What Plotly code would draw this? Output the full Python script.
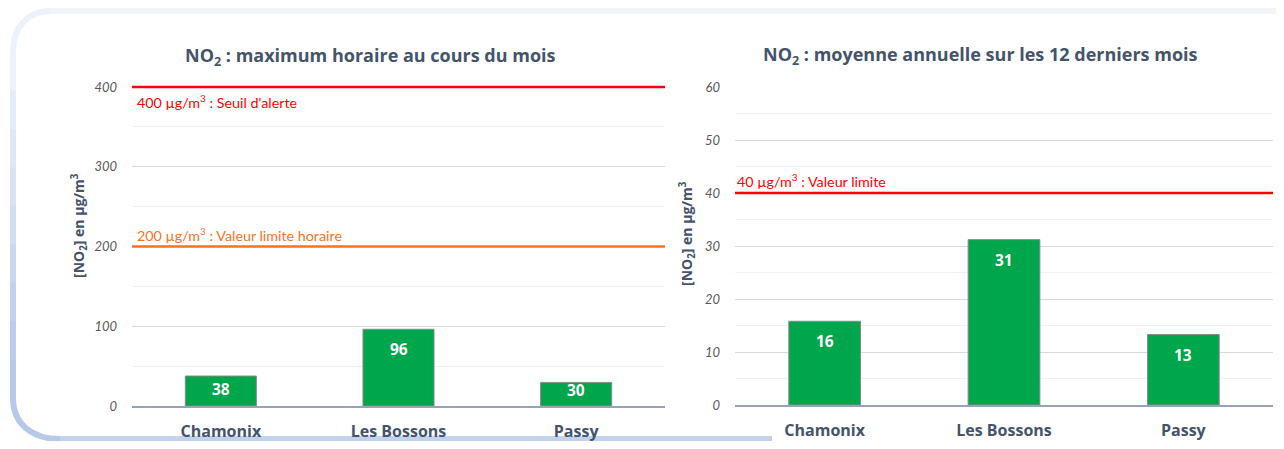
import plotly.graph_objects as go

# ---------------- data ----------------
stations = ["Chamonix", "Les Bossons", "Passy"]
max_horaire = [37.6, 96.2, 29.6]          # µg/m3, left chart
moy_annuelle = [15.8, 31.2, 13.3]         # µg/m3, right chart
left_ticks = [0, 100, 200, 300, 400]
right_ticks = [0, 10, 20, 30, 40, 50, 60]
left_thresholds = [400, 200]
left_threshold_labels = ["400 µg/m<sup>3</sup> : Seuil d'alerte",
                         "200 µg/m<sup>3</sup> : Valeur limite horaire"]
right_thresholds = [40]
right_threshold_labels = ["40 µg/m<sup>3</sup> : Valeur limite"]
title_left = "NO<sub>2</sub> : maximum horaire au cours du mois"
title_right = "NO<sub>2</sub> : moyenne annuelle sur les 12 derniers mois"
ytitle = "[NO<sub>2</sub>] en µg/m<sup>3</sup>"

# ---------------- layout constants ----------------
# The page body has an 8px margin: the figure is sized to fit the viewport
OFF = 8
W, H = 1284 - 2 * OFF, 449 - 2 * OFF
def px(x):
    return (x - OFF) / W
def py(y):
    return 1 - (y - OFF) / H

L_X = [px(132), px(665)]
L_Y = [py(406), py(87)]
R_X = [px(735), px(1273)]
R_Y = [py(405), py(87)]
L_MAX, R_MAX = 400, 60

GREEN = "#00a64b"
DARK = "#44546a"
TICK = "#595959"
RED = "#ff0000"
ORANGE = "#f7731f"
TITLE_FONT = "Open Sans"
NARROW_FONT = "Lato"

fig = go.Figure()

fig.add_trace(go.Bar(x=stations, y=max_horaire, xaxis="x", yaxis="y",
                     marker=dict(color=GREEN, line=dict(color="#8a8a8a", width=1)),
                     width=0.4, hoverinfo="x+y", showlegend=False))
fig.add_trace(go.Bar(x=stations, y=moy_annuelle, xaxis="x2", yaxis="y2",
                     marker=dict(color=GREEN, line=dict(color="#8a8a8a", width=1)),
                     width=0.4, hoverinfo="x+y", showlegend=False))

common_y = dict(
    showgrid=True, gridcolor="#d9d9d9", gridwidth=1,
    zeroline=False, showline=False, ticks="",
    tickfont=dict(family=NARROW_FONT, size=13, color=TICK, style="italic"),
    ticklabelstandoff=14,
    automargin=False,
    fixedrange=True,
)
common_x = dict(
    showline=True, linecolor="#97a3b6", linewidth=1.5,
    ticks="", showgrid=False,
    tickfont=dict(family=TITLE_FONT, size=16, color=DARK, weight="bold"),
    ticklabelstandoff=10,
    automargin=False,
    fixedrange=True,
)

fig.update_layout(
    width=W, height=H,
    margin=dict(l=0, r=0, t=0, b=0, pad=0),
    paper_bgcolor="white", plot_bgcolor="rgba(0,0,0,0)",
    bargap=0.6,
    xaxis=dict(domain=L_X, anchor="y", **common_x),
    yaxis=dict(domain=L_Y, anchor="x", range=[0, L_MAX], tickvals=left_ticks,
               minor=dict(dtick=50, showgrid=True, gridcolor="#f0f0f0", ticks=""),
               **common_y),
    xaxis2=dict(domain=R_X, anchor="y2", **common_x),
    yaxis2=dict(domain=R_Y, anchor="x2", range=[0, R_MAX], tickvals=right_ticks,
                minor=dict(dtick=5, showgrid=True, gridcolor="#f0f0f0", ticks=""),
                **common_y),
)

shapes = []
annotations = []

# ---------- card decoration (rounded border with gradient) ----------
def P(x, y):
    return f"{px(x):.5f},{py(y):.5f}"

BW = 6
shapes.append(dict(type="path", xref="paper", yref="paper", layer="below",
                   path=f"M{P(50,11)} L{P(1290,11)}",
                   line=dict(color="#f1f4fa", width=BW)))
shapes.append(dict(type="path", xref="paper", yref="paper", layer="below",
                   path=f"M{P(13,52)} C{P(13,27)} {P(28,11)} {P(50,11)}",
                   line=dict(color="#edf1f9", width=BW)))
left_cols = ["#edf1f9", "#e6ecf7", "#dfe7f5", "#d8e2f3", "#d1ddf1",
             "#c9d7ef", "#c2d2ed", "#bccdeb", "#b7c9ea"]
n = len(left_cols)
y0, y1 = 52, 398
for i, c in enumerate(left_cols):
    ya = y0 + (y1 - y0) * i / n
    yb = y0 + (y1 - y0) * (i + 1) / n + 1
    shapes.append(dict(type="path", xref="paper", yref="paper", layer="below",
                       path=f"M{P(13,ya)} L{P(13,yb)}",
                       line=dict(color=c, width=BW)))
shapes.append(dict(type="path", xref="paper", yref="paper", layer="below",
                   path=f"M{P(13,398)} C{P(13,424)} {P(32,439)} {P(60,439)}",
                   line=dict(color="#b6c9e9", width=BW)))
shapes.append(dict(type="path", xref="paper", yref="paper", layer="below",
                   path=f"M{P(60,439)} L{P(772,439)}",
                   line=dict(color="#c3d3ee", width=BW)))

# ---------- threshold lines (paper y derived from the axis scale, not clipped) ----------
def val_to_paper(v, dom, vmax):
    return dom[0] + (dom[1] - dom[0]) * v / vmax

for val in left_thresholds:
    col = RED if val == 400 else ORANGE
    yp = val_to_paper(val, L_Y, L_MAX)
    shapes.append(dict(type="line", xref="paper", yref="paper",
                       x0=L_X[0], x1=L_X[1], y0=yp, y1=yp,
                       line=dict(color=col, width=2.5)))
for val in right_thresholds:
    yp = val_to_paper(val, R_Y, R_MAX)
    shapes.append(dict(type="line", xref="paper", yref="paper",
                       x0=R_X[0], x1=R_X[1], y0=yp, y1=yp,
                       line=dict(color=RED, width=2.5)))

annotations.append(dict(xref="x domain", yref="y", x=0, y=left_thresholds[0],
                        text=left_threshold_labels[0], showarrow=False,
                        xanchor="left", yanchor="top", xshift=3, yshift=-3,
                        font=dict(family=NARROW_FONT, size=14.3, color=RED)))
annotations.append(dict(xref="x domain", yref="y", x=0, y=left_thresholds[1],
                        text=left_threshold_labels[1], showarrow=False,
                        xanchor="left", yanchor="bottom", xshift=3, yshift=1,
                        font=dict(family=NARROW_FONT, size=14.3, color=ORANGE)))
annotations.append(dict(xref="x2 domain", yref="y2", x=0, y=right_thresholds[0],
                        text=right_threshold_labels[0], showarrow=False,
                        xanchor="left", yanchor="bottom", xshift=0, yshift=1,
                        font=dict(family=NARROW_FONT, size=14.3, color=RED)))

# ---------- bar value labels ----------
def bar_labels(xref, yref, values, ymax, dom):
    ppu = (dom[1] - dom[0]) * H / ymax
    for s, v in zip(stations, values):
        hpx = v * ppu
        shift = -min(20, max(8, hpx - 17))
        annotations.append(dict(xref=xref, yref=yref, x=s, y=v,
                                text=f"{v:.0f}", showarrow=False,
                                yanchor="middle", yshift=shift,
                                font=dict(family=TITLE_FONT, size=15.5,
                                          color="white", weight="bold")))

bar_labels("x", "y", max_horaire, L_MAX, L_Y)
bar_labels("x2", "y2", moy_annuelle, R_MAX, R_Y)

# ---------- titles ----------
annotations.append(dict(xref="paper", yref="paper", x=px(370), y=py(57),
                        text=title_left, showarrow=False,
                        xanchor="center", yanchor="middle",
                        font=dict(family=TITLE_FONT, size=18, color=DARK, weight="bold")))
annotations.append(dict(xref="paper", yref="paper", x=px(980), y=py(55),
                        text=title_right, showarrow=False,
                        xanchor="center", yanchor="middle",
                        font=dict(family=TITLE_FONT, size=18, color=DARK, weight="bold")))

# ---------- axis titles ----------
annotations.append(dict(xref="paper", yref="paper", x=px(79), y=py(226),
                        text=ytitle, showarrow=False, textangle=-90,
                        xanchor="center", yanchor="middle",
                        font=dict(family=TITLE_FONT, size=14, color=DARK, weight="bold")))
annotations.append(dict(xref="paper", yref="paper", x=px(687), y=py(234),
                        text=ytitle, showarrow=False, textangle=-90,
                        xanchor="center", yanchor="middle",
                        font=dict(family=TITLE_FONT, size=14, color=DARK, weight="bold")))

fig.update_layout(shapes=shapes, annotations=annotations)

fig.write_html("out.html")
